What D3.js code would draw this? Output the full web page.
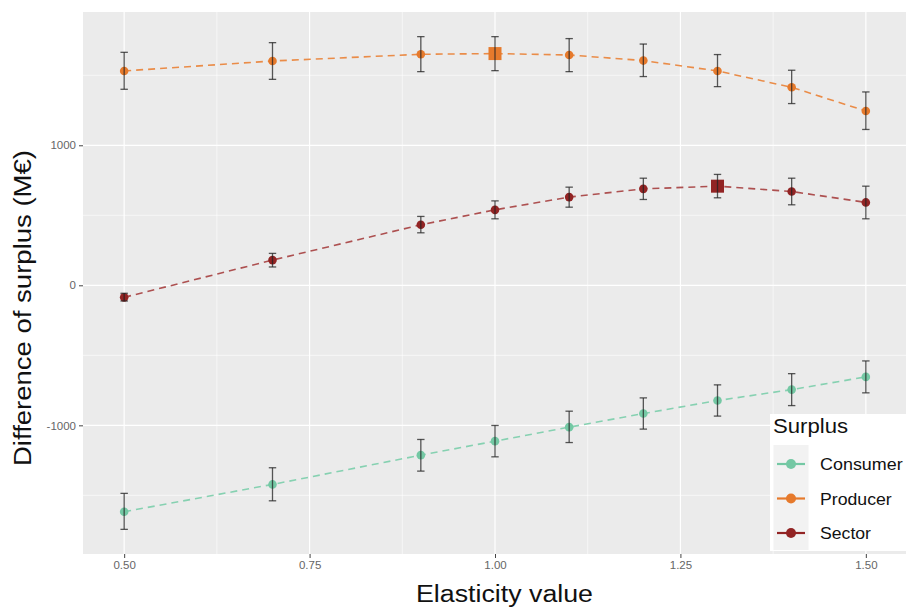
<!DOCTYPE html>
<html>
<head>
<meta charset="utf-8">
<script src="https://cdn.jsdelivr.net/npm/d3@7"></script>
<style>
  html, body { margin: 0; padding: 0; background: #fff; }
  svg { display: block; font-family: "Liberation Sans", Arial, Helvetica, sans-serif; }
</style>
</head>
<body>
<svg id="chart" width="906" height="607"></svg>
<script>
// ---- data ----
const elasticity = [0.5, 0.7, 0.9, 1.0, 1.1, 1.2, 1.3, 1.4, 1.5];
const seriesNames = ["Consumer", "Producer", "Sector"];

const consumerMean = [-1617, -1422, -1213, -1113, -1013, -916, -823, -745, -654];
const consumerLow  = [-1743, -1539, -1327, -1225, -1123, -1027, -934, -859, -768];
const consumerHigh = [-1486, -1303, -1101, -1001, -899, -804, -711, -631, -540];

const producerMean = [1531, 1602, 1650, 1655, 1645, 1605, 1531, 1414, 1245];
const producerLow  = [1400, 1471, 1526, 1533, 1526, 1491, 1419, 1298, 1113];
const producerHigh = [1664, 1733, 1776, 1776, 1762, 1723, 1648, 1536, 1381];

const sectorMean = [-86, 180, 432, 539, 630, 689, 708, 670, 592];
const sectorLow  = [-112, 131, 375, 475, 558, 613, 625, 575, 475];
const sectorHigh = [-57, 228, 492, 603, 701, 765, 792, 765, 708];

// optimum markers (drawn as squares)
const optimumSeries = ["Producer", "Sector"];
const optimumX = [1.0, 1.3];

const xTicks = [0.5, 0.75, 1.0, 1.25, 1.5];
const xTickLabels = ["0.50", "0.75", "1.00", "1.25", "1.50"];
const xMinor = [0.625, 0.875, 1.125, 1.375];
const yTicks = [-1000, 0, 1000];
const yTickLabels = ["-1000", "0", "1000"];
const yMinor = [-1500, -500, 500, 1500];

const xTitle = "Elasticity value";
const yTitle = "Difference of surplus (M€)";
const legendTitle = "Surplus";

// ---- build table ----
const meanArr = [consumerMean, producerMean, sectorMean];
const lowArr = [consumerLow, producerLow, sectorLow];
const highArr = [consumerHigh, producerHigh, sectorHigh];
const series = seriesNames.map((name, si) => ({
  name,
  points: elasticity.map((x, i) => ({ x, y: meanArr[si][i], lo: lowArr[si][i], hi: highArr[si][i] }))
}));

const colors = { Consumer: "#74c8a4", Producer: "#e67a2c", Sector: "#922424" };
const lineColors = { Consumer: "#86d1b1", Producer: "#ea8c48", Sector: "#ad5050" };

// ---- layout ----
const panel = { left: 83, top: 12, right: 907, bottom: 554 };
const capHalf = 0.005;

const xMin = d3.min(elasticity) - capHalf, xMax = d3.max(elasticity) + capHalf;
const xPad = (xMax - xMin) * 0.05;
const yLo = d3.min(lowArr.flat()), yHi = d3.max(highArr.flat());
const yPad = (yHi - yLo) * 0.05;

const x = d3.scaleLinear().domain([xMin - xPad, xMax + xPad]).range([panel.left, panel.right]);
const y = d3.scaleLinear().domain([yLo - yPad, yHi + yPad]).range([panel.bottom, panel.top]);

const svg = d3.select("#chart");

// panel background
svg.append("rect")
  .attr("x", panel.left).attr("y", panel.top)
  .attr("width", panel.right - panel.left).attr("height", panel.bottom - panel.top)
  .attr("fill", "#ebebeb");

const grid = svg.append("g");
grid.selectAll(".ymin").data(yMinor).join("line")
  .attr("x1", panel.left).attr("x2", panel.right)
  .attr("y1", d => y(d)).attr("y2", d => y(d))
  .attr("stroke", "#fff").attr("stroke-width", 0.6);
grid.selectAll(".xmin").data(xMinor).join("line")
  .attr("y1", panel.top).attr("y2", panel.bottom)
  .attr("x1", d => x(d)).attr("x2", d => x(d))
  .attr("stroke", "#fff").attr("stroke-width", 0.6);
grid.selectAll(".ymaj").data(yTicks).join("line")
  .attr("x1", panel.left).attr("x2", panel.right)
  .attr("y1", d => y(d)).attr("y2", d => y(d))
  .attr("stroke", "#fff").attr("stroke-width", 1.2);
grid.selectAll(".xmaj").data(xTicks).join("line")
  .attr("y1", panel.top).attr("y2", panel.bottom)
  .attr("x1", d => x(d)).attr("x2", d => x(d))
  .attr("stroke", "#fff").attr("stroke-width", 1.2);

// axes
const xAxis = d3.axisBottom(x).tickValues(xTicks).tickFormat((d, i) => xTickLabels[i]).tickSize(4).tickPadding(3);
const yAxis = d3.axisLeft(y).tickValues(yTicks).tickFormat((d, i) => yTickLabels[i]).tickSize(4).tickPadding(3);
const gx = svg.append("g").attr("transform", `translate(0,${panel.bottom})`).call(xAxis);
const gy = svg.append("g").attr("transform", `translate(${panel.left},0)`).call(yAxis);
[gx, gy].forEach(g => {
  g.select(".domain").remove();
  g.selectAll(".tick line").attr("stroke", "#444").attr("stroke-width", 1);
  g.selectAll(".tick text").attr("fill", "#666").attr("font-size", 11.5)
    .attr("font-family", "'Liberation Sans', Arial, sans-serif");
});

// lines
const line = d3.line().x(d => x(d.x)).y(d => y(d.y));
const plot = svg.append("g");
series.forEach(s => {
  plot.append("path").datum(s.points)
    .attr("d", line)
    .attr("fill", "none")
    .attr("stroke", lineColors[s.name])
    .attr("stroke-width", 1.6)
    .attr("stroke-dasharray", "7,5");
});

// points
series.forEach(s => {
  const oi = optimumSeries.indexOf(s.name);
  const pts = s.points.filter(p => oi < 0 || Math.abs(p.x - optimumX[oi]) > 1e-9);
  plot.selectAll(null).data(pts).join("circle")
    .attr("cx", d => x(d.x)).attr("cy", d => y(d.y))
    .attr("r", 4.3)
    .attr("fill", colors[s.name]);
  if (oi >= 0) {
    const sq = s.points.filter(p => Math.abs(p.x - optimumX[oi]) < 1e-9);
    plot.selectAll(null).data(sq).join("rect")
      .attr("x", d => x(d.x) - 6.5).attr("y", d => y(d.y) - 6.5)
      .attr("width", 13).attr("height", 13)
      .attr("fill", colors[s.name]);
  }
});

// error bars
series.forEach(s => {
  const g = plot.append("g").attr("stroke", "#222").attr("stroke-opacity", 0.75).attr("stroke-width", 1.3);
  g.selectAll(null).data(s.points).join("line")
    .attr("x1", d => x(d.x)).attr("x2", d => x(d.x))
    .attr("y1", d => y(d.lo)).attr("y2", d => y(d.hi));
  g.selectAll(null).data(s.points).join("line")
    .attr("x1", d => x(d.x - capHalf)).attr("x2", d => x(d.x + capHalf))
    .attr("y1", d => y(d.lo)).attr("y2", d => y(d.lo));
  g.selectAll(null).data(s.points).join("line")
    .attr("x1", d => x(d.x - capHalf)).attr("x2", d => x(d.x + capHalf))
    .attr("y1", d => y(d.hi)).attr("y2", d => y(d.hi));
});

// axis titles
svg.append("text")
  .attr("x", 504.5).attr("y", 601.5)
  .attr("text-anchor", "middle")
  .attr("font-size", 23).attr("fill", "#111")
  .attr("textLength", 177).attr("lengthAdjust", "spacingAndGlyphs")
  .text(xTitle);
svg.append("text")
  .attr("transform", "translate(30.5,308) rotate(-90)")
  .attr("text-anchor", "middle")
  .attr("font-size", 23).attr("fill", "#111")
  .attr("textLength", 316).attr("lengthAdjust", "spacingAndGlyphs")
  .text(yTitle);

// legend
const lg = svg.append("g");
lg.append("rect").attr("x", 770).attr("y", 414).attr("width", 140).attr("height", 137).attr("fill", "#fff");
lg.append("text").attr("x", 773).attr("y", 432.5)
  .attr("font-size", 19.5).attr("fill", "#111")
  .attr("textLength", 75).attr("lengthAdjust", "spacingAndGlyphs")
  .text(legendTitle);
lg.append("rect").attr("x", 773.5).attr("y", 445).attr("width", 35).attr("height", 105).attr("fill", "#f2f2f2");
const keyY = [464, 498.5, 533];
const labelLen = [82.7, 71.7, 51];
seriesNames.forEach((name, i) => {
  lg.append("line").attr("x1", 777).attr("x2", 805)
    .attr("y1", keyY[i]).attr("y2", keyY[i])
    .attr("stroke", colors[name]).attr("stroke-width", 2.2);
  lg.append("circle").attr("cx", 791).attr("cy", keyY[i]).attr("r", 5).attr("fill", colors[name]);
  lg.append("text").attr("x", 820).attr("y", keyY[i] + 6)
    .attr("font-size", 16.5).attr("fill", "#111")
    .attr("textLength", labelLen[i]).attr("lengthAdjust", "spacingAndGlyphs")
    .text(name);
});
</script>
</body>
</html>
